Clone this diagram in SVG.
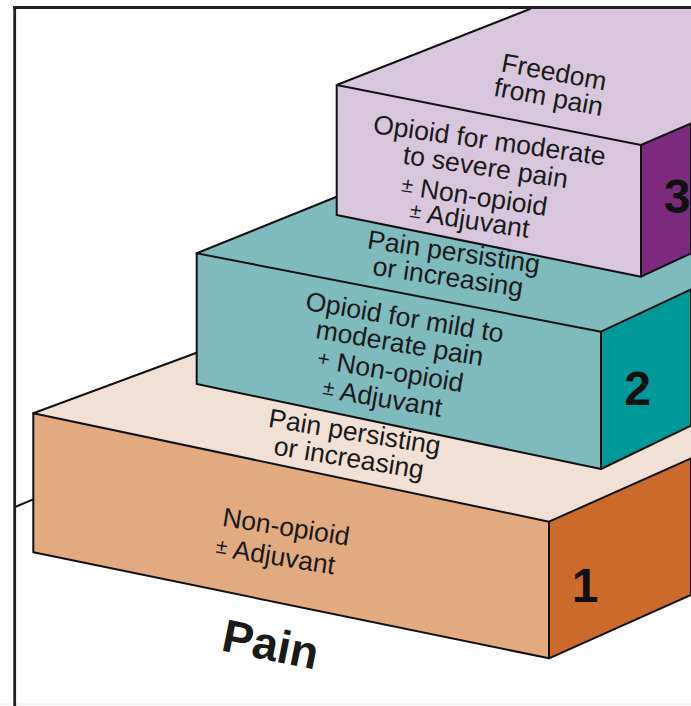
<svg xmlns="http://www.w3.org/2000/svg" width="691" height="706" viewBox="0 0 691 706">
<style>
.edge{stroke:#111;stroke-width:2;stroke-linejoin:round;stroke-linecap:round}
.t{font-family:"Liberation Sans",Arial,Helvetica,sans-serif;font-size:26.5px;fill:#1a1a1a;text-anchor:middle}
.pm{font-size:21px}
.num{font-family:"Liberation Sans",Arial,Helvetica,sans-serif;font-size:48px;font-weight:bold;fill:#111;text-anchor:middle}
.big{font-family:"Liberation Sans",Arial,Helvetica,sans-serif;font-size:46px;font-weight:bold;fill:#1a1a1a;text-anchor:middle}
</style>
<rect x="0" y="0" width="691" height="706" fill="#ffffff"/>
<line x1="0" y1="704" x2="691" y2="704" stroke="#e8e8e8" stroke-width="1"/>
<line class="edge" x1="15" y1="507" x2="33.3" y2="499.3"/>

<g id="step1">
  <polygon points="33.3,413.3 549,521.7 691,458.3 691,300 196,300 196,353" fill="#f0e0d6"/>
  <line class="edge" x1="33.3" y1="413.3" x2="196" y2="353"/>
  <polygon class="edge" points="33.3,413.3 549,521.7 549,658.3 33.3,552.3" fill="#e1aa80"/>
  <polygon class="edge" points="549,521.7 691,458.3 691,595 549,658.3" fill="#cc6a2b"/>
  <text class="num" x="585" y="601.7">1</text>
  <text class="t" transform="translate(284.7,535.8) rotate(9)">Non-opioid</text>
  <text class="t" transform="translate(274,565) rotate(9)"><tspan class="pm" baseline-shift="3">±</tspan> Adjuvant</text>
  <text class="t" transform="translate(353.3,440.8) rotate(9.3)">Pain persisting</text>
  <text class="t" transform="translate(347.5,466.7) rotate(9.3)">or increasing</text>
</g>

<g id="step2">
  <polygon points="196.7,253.3 601,331.7 691,289.3 691,130 336.7,130 336.7,196.7" fill="#7fbabd"/>
  <line class="edge" x1="196.7" y1="253.3" x2="336.7" y2="196.7"/>
  <polygon class="edge" points="196.7,253.3 601,331.7 601,469 196.7,384" fill="#7fbabd"/>
  <polygon class="edge" points="601,331.7 691,289.3 691,425.7 601,469" fill="#00999a"/>
  <text class="num" x="637.5" y="405">2</text>
  <text class="t" transform="translate(403.3,326.2) rotate(9.5)">Opioid for mild to</text>
  <text class="t" transform="translate(398.3,352) rotate(9.5)">moderate pain</text>
  <text class="t" transform="translate(389,380) rotate(9.5)"><tspan class="pm" baseline-shift="3">+</tspan> Non-opioid</text>
  <text class="t" transform="translate(381,407) rotate(9.5)"><tspan class="pm" baseline-shift="3">±</tspan> Adjuvant</text>
  <text class="t" transform="translate(452.5,260.8) rotate(8.3)">Pain persisting</text>
  <text class="t" transform="translate(446.7,285.8) rotate(8.3)">or increasing</text>
</g>

<g id="step3">
  <polygon points="336.7,85 641,145 691,123.3 691,9 530,9" fill="#d8c7dc"/>
  <line class="edge" x1="336.7" y1="85" x2="530" y2="9"/>
  <polygon class="edge" points="336.7,85 641,145 641,276.7 336.7,215" fill="#d8c7dc"/>
  <polygon class="edge" points="641,145 691,123.3 691,253.3 641,276.7" fill="#7b2a7e"/>
  <text class="num" x="677" y="213">3</text>
  <text class="t" transform="translate(552.5,80.8) rotate(10.5)">Freedom</text>
  <text class="t" transform="translate(547,105.8) rotate(10.5)">from pain</text>
  <text class="t" transform="translate(488.3,149.2) rotate(8)">Opioid for moderate</text>
  <text class="t" transform="translate(484.2,175.8) rotate(8.5)">to severe pain</text>
  <text class="t" transform="translate(473,205) rotate(8.5)"><tspan class="pm" baseline-shift="3">±</tspan> Non-opioid</text>
  <text class="t" transform="translate(468.3,229) rotate(8.5)"><tspan class="pm" baseline-shift="3">±</tspan> Adjuvant</text>
</g>

<g id="axis-label">
  <text class="big" transform="translate(267.5,660) rotate(11.5)">Pain</text>
</g>

<g id="frame">
  <line x1="13.3" y1="7.5" x2="691" y2="7.5" stroke="#231f20" stroke-width="3"/>
  <line x1="14.7" y1="6" x2="14.7" y2="706" stroke="#231f20" stroke-width="2.8"/>
</g>
<g id="connectors"></g>
</svg>
